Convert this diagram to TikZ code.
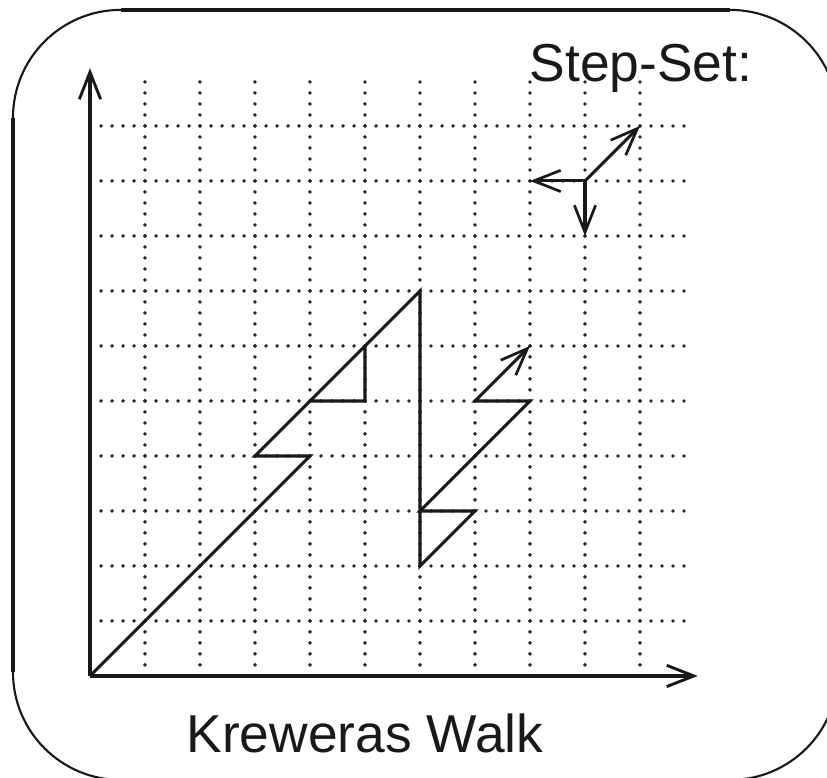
\documentclass[tikz,border=0pt]{standalone}
\usepackage{fontspec}
\setmainfont{Liberation Sans}
\usetikzlibrary{arrows.meta}
\begin{document}
\begin{tikzpicture}[x=1cm,y=1cm,
  gridline/.style={line width=2pt, line cap=round, dash pattern=on 0pt off 5.69pt, black!85},
  axisline/.style={line width=1.8pt, black!90, -{Straight Barb[length=14pt,width=11pt,line width=1.5pt]}},
  walkline/.style={line width=1.6pt, black!90, line join=miter},
  arrowtip/.style={-{Straight Barb[length=14pt,width=11pt,line width=1.4pt]}},
  label/.style={font=\fontsize{27.6}{32}\selectfont, inner sep=0pt, anchor=base, black!90}]
\useasboundingbox (-1.636,-1.855) rectangle (13.4,12.29);
% frame
\draw[line width=1.1pt, black!90, rounded corners=1.96cm] (-1.4,-1.89) rectangle (13.6,12.11);
\draw[line width=2.2pt, black!90] (0.56,12.11) -- (11.64,12.11);
\draw[line width=2.2pt, black!90] (-1.4,0.07) -- (-1.4,10.15);
% grid
\foreach \i in {1,...,10} {
  \draw[gridline] (\i,10.8) -- (\i,0.2);
  \draw[gridline] (10.8,\i) -- (0.2,\i);
}
% axes
\coordinate (O) at (0,0);
\coordinate (xend) at (11.05,0);
\coordinate (yend) at (0,11.05);
\draw[axisline] (O) -- (yend);
\draw[axisline] (O) -- (xend);
% walk
\draw[walkline, arrowtip] (O) -- (4,4) -- (3,4) -- (4,5) -- (5,6) -- (5,5) -- (4,5) -- (5,6) -- (6,7)
  -- (6,2) -- (7,3) -- (6,3) -- (7,4) -- (8,5) -- (7,5) -- (8,6);
% step set
\coordinate (c) at (9,9);
\coordinate (ne) at (10,10);
\coordinate (w) at (8,9);
\coordinate (s) at (9,8);
\draw[walkline, arrowtip] (c) -- (ne);
\draw[walkline, arrowtip] (c) -- (w);
\draw[walkline, arrowtip] (c) -- (s);
% labels
\node[label] (stepset) at (10.02,10.8) {Step-Set:};
\node[label] (title) at (5.0,-1.4) {Kreweras Walk};
\end{tikzpicture}
\end{document}
